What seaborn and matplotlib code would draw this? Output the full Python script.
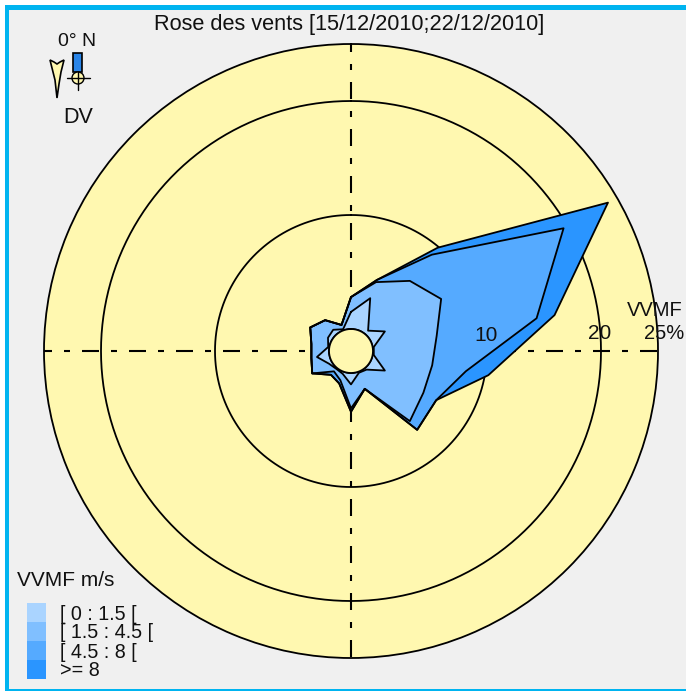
import numpy as np
import matplotlib
matplotlib.use("Agg")
import matplotlib.pyplot as plt
from matplotlib.patches import Rectangle
import seaborn as sns

directions = [0, 20, 40, 60, 80, 100, 120, 140, 160, 180, 200, 220, 240, 260, 280, 300, 320, 340]
# cumulative frequency (%) per wind-speed class, one value per direction
cum_ge8 = [2.8, 4.7, 9.9, 24.1, 16.2, 10.3, 6.7, 7.1, 1.6, 3.4, 1.1, 0.8, 2.0, 1.6, 1.6, 2.2, 1.6, 0.5]
cum_8 = [2.8, 4.7, 9.1, 19.6, 14.6, 8.3, 6.7, 7.1, 1.6, 3.4, 1.1, 0.8, 2.0, 1.6, 1.6, 2.2, 1.6, 0.5]
cum_45 = [2.8, 4.5, 6.1, 7.2, 5.7, 5.3, 5.4, 6.1, 1.6, 3.1, 0.8, 0.4, 2.0, 1.6, 1.6, 2.2, 1.6, 0.5]
cum_15 = [1.5, 3.0, 0.4, 1.5, 0.1, 0.1, 1.5, 0.2, 0.1, 1.0, 0.2, 0.1, 0.3, 1.1, 0.1, 0.4, 0.5, 0.1]
class_labels = ["[ 0 : 1.5 [", "[ 1.5 : 4.5 [", "[ 4.5 : 8 [", ">= 8"]
class_colors = ["#AAD4FF", "#80BFFF", "#55AAFF", "#2A95FF"]
r_ticks = [10, 20, 25]
title = "Rose des vents [15/12/2010;22/12/2010]"

W, H = 686, 691
sns.set_theme(style="white")
plt.rcParams["font.family"] = ["Liberation Sans", "DejaVu Sans"]
BG = "#F0F0F0"
YEL = "#FFF8B0"
FRAME = "#00B4F0"
fig = plt.figure(figsize=(W / 100, H / 100), dpi=100, facecolor="white")

# window frame and background
under = fig.add_axes([0, 0, 1, 1], facecolor="none", zorder=0)
under.set_xlim(0, W)
under.set_ylim(H, 0)
under.axis("off")
under.add_patch(Rectangle((5, 5), W - 5, H - 5, fc=FRAME, ec="none"))
under.add_patch(Rectangle((9, 10), W - 9, H - 12, fc=BG, ec="none"))

cx, cy, R = 351, 351, 307
ax = fig.add_axes([(cx - R) / W, 1 - (cy + R) / H, 2 * R / W, 2 * R / H], projection="polar", zorder=1)
ax.set_facecolor(YEL)
ax.set_theta_zero_location("N")
ax.set_theta_direction(-1)
ax.set_ylim(0, 25)
ax.set_rorigin(-22 / 11.4)
ax.grid(False)
ax.set_xticks([])
ax.set_yticks([])
for s in ax.spines.values():
    s.set_edgecolor("black")
    s.set_linewidth(1.3)

th = np.deg2rad(directions + directions[:1])
fine = np.linspace(0, 2 * np.pi, 181)

for rv in r_ticks[:2]:
    ax.plot(fine, np.full_like(fine, rv), color="black", lw=1.3, zorder=1)

# dash-dot axes: dash 17 px, gap 12, dot 6, gap 12 (unit = line width = 2.083 px)
unit = 1.5 * 100 / 72
pattern = tuple(v / unit for v in (17, 12, 6, 12))
for a, phase in zip([0, 90, 180, 270], [5, 15, 15, 5]):
    ax.plot([np.deg2rad(a)] * 2, [0, 25], color="black", lw=1.5, zorder=1.5,
            linestyle=(phase / unit, pattern))

for series, col in zip([cum_ge8, cum_8, cum_45, cum_15], class_colors[::-1]):
    vals = series + series[:1]
    ax.fill(th, vals, color=col, zorder=2, lw=0)
    sns.lineplot(x=th, y=vals, ax=ax, sort=False, estimator=None, color="black", lw=1.3, zorder=3, legend=False)
ax.set_xlabel("")
ax.set_ylabel("")
ax.set_ylim(0, 25)
ax.set_rorigin(-22 / 11.4)

# central hole (the polar axes patch itself excludes it, so draw unclipped)
ax.fill(fine, np.zeros_like(fine), color=YEL, zorder=4, lw=0, clip_on=False)
ax.plot(fine, np.zeros_like(fine), color="black", lw=1.3, zorder=5, clip_on=False)

overlay = fig.add_axes([0, 0, 1, 1], facecolor="none", zorder=2)
overlay.set_xlim(0, W)
overlay.set_ylim(H, 0)
overlay.axis("off")


def T(x, y, s, size=15, ha="center", va="center", **kw):
    overlay.text(x, y, s, fontsize=size, ha=ha, va=va, color="#111111", **kw)


T(349, 24, title, size=15.7)
T(486, 335, "10")
T(600, 333, "20")
T(664, 333, "25%", size=14.5)
T(655, 310, "VVMF", size=14.5)
T(77, 41, "0° N", size=14)
T(78, 117, "DV", size=15.5)
T(17, 581, "VVMF m/s", ha="left")
for y, s in zip([614, 633, 652, 671], class_labels):
    T(60, y, s, ha="left", size=14.2)

# legend swatches
for i, col in enumerate(class_colors):
    overlay.add_patch(Rectangle((27, 603 + i * 19), 19, 19, fc=col, ec="none"))

# compass glyphs
overlay.fill([50, 54, 57, 60, 64, 61, 59, 57, 55], [60, 62, 64, 62, 60, 72, 84, 98, 80],
             fc="#FFF8B0", ec="black", lw=1.2)
overlay.add_patch(Rectangle((73, 53), 9, 19, fc="#2A85E8", ec="black", lw=1.2))
overlay.add_patch(plt.Circle((78, 78), 6, fc="#FFF8B0", ec="black", lw=1))
overlay.plot([67, 90], [78, 78], color="black", lw=1)
overlay.plot([78, 78], [72, 90], color="black", lw=1)

fig.savefig("out.png", dpi=100, facecolor="white")
